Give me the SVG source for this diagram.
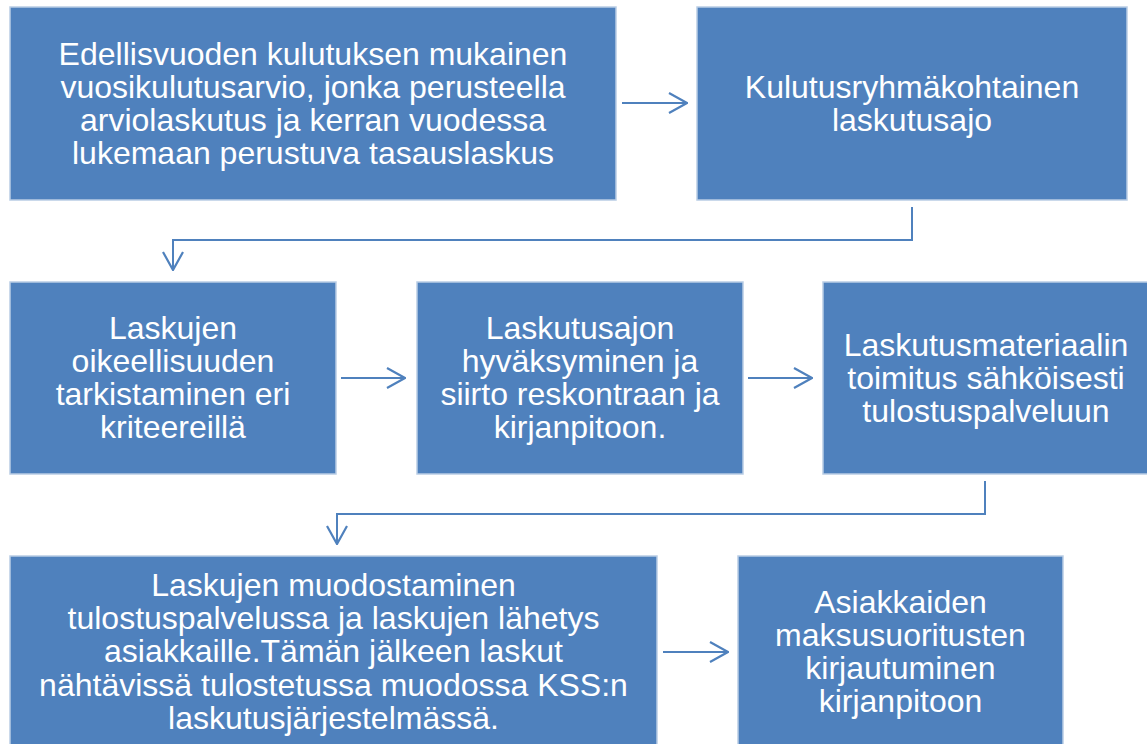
<svg xmlns="http://www.w3.org/2000/svg" width="1147" height="744" viewBox="0 0 1147 744">
<style>
.box{fill:#4f81bd;stroke:#b9cde5;stroke-width:1.5}
.t{font-family:"Liberation Sans",Arial,sans-serif;font-size:32px;fill:#ffffff;text-anchor:middle}
.c{fill:none;stroke:#4f81bd;stroke-width:2}
</style>
<defs>
<marker id="ah" viewBox="0 0 20 22" refX="19" refY="11" markerWidth="20" markerHeight="22" markerUnits="userSpaceOnUse" orient="auto">
<path d="M1,1 L19,11 L1,21" fill="none" stroke="#4f81bd" stroke-width="2.2"/>
</marker>
</defs>
<rect width="1147" height="744" fill="#ffffff"/>
<g id="connectors">
<path class="c" d="M622,103 H687" marker-end="url(#ah)"/>
<path class="c" d="M912,207 V240 H173 V270" marker-end="url(#ah)"/>
<path class="c" d="M341,378 H405" marker-end="url(#ah)"/>
<path class="c" d="M748,378 H812" marker-end="url(#ah)"/>
<path class="c" d="M985,481 V514 H337 V544" marker-end="url(#ah)"/>
<path class="c" d="M663,652 H728" marker-end="url(#ah)"/>
</g>
<g id="n1">
<rect class="box" x="10" y="7" width="606" height="193"/>
<text class="t"><tspan x="313" y="65">Edellisvuoden kulutuksen mukainen</tspan><tspan x="313" y="98">vuosikulutusarvio, jonka perusteella</tspan><tspan x="313" y="131">arviolaskutus ja kerran vuodessa</tspan><tspan x="313" y="164">lukemaan perustuva tasauslaskus</tspan></text>
</g>
<g id="n2">
<rect class="box" x="697" y="7" width="430" height="193"/>
<text class="t"><tspan x="912" y="98">Kulutusryhmäkohtainen</tspan><tspan x="912" y="131">laskutusajo</tspan></text>
</g>
<g id="n3">
<rect class="box" x="10" y="282" width="326" height="192"/>
<text class="t"><tspan x="173" y="339">Laskujen</tspan><tspan x="173" y="372">oikeellisuuden</tspan><tspan x="173" y="405">tarkistaminen eri</tspan><tspan x="173" y="438">kriteereillä</tspan></text>
</g>
<g id="n4">
<rect class="box" x="417" y="282" width="326" height="192"/>
<text class="t"><tspan x="580" y="339">Laskutusajon</tspan><tspan x="580" y="372">hyväksyminen ja</tspan><tspan x="580" y="405">siirto reskontraan ja</tspan><tspan x="580" y="438">kirjanpitoon.</tspan></text>
</g>
<g id="n5">
<rect class="box" x="823" y="282" width="326" height="192"/>
<text class="t"><tspan x="986" y="356">Laskutusmateriaalin</tspan><tspan x="986" y="389">toimitus sähköisesti</tspan><tspan x="986" y="422">tulostuspalveluun</tspan></text>
</g>
<g id="n6">
<rect class="box" x="10" y="556" width="647" height="192"/>
<text class="t"><tspan x="333.5" y="596">Laskujen muodostaminen</tspan><tspan x="333.5" y="629">tulostuspalvelussa ja laskujen lähetys</tspan><tspan x="333.5" y="662">asiakkaille.Tämän jälkeen laskut</tspan><tspan x="333.5" y="696">nähtävissä tulostetussa muodossa KSS:n</tspan><tspan x="333.5" y="729">laskutusjärjestelmässä.</tspan></text>
</g>
<g id="n7">
<rect class="box" x="738" y="556" width="325" height="192"/>
<text class="t"><tspan x="900.5" y="613">Asiakkaiden</tspan><tspan x="900.5" y="646">maksusuoritusten</tspan><tspan x="900.5" y="679">kirjautuminen</tspan><tspan x="900.5" y="712">kirjanpitoon</tspan></text>
</g>
</svg>
